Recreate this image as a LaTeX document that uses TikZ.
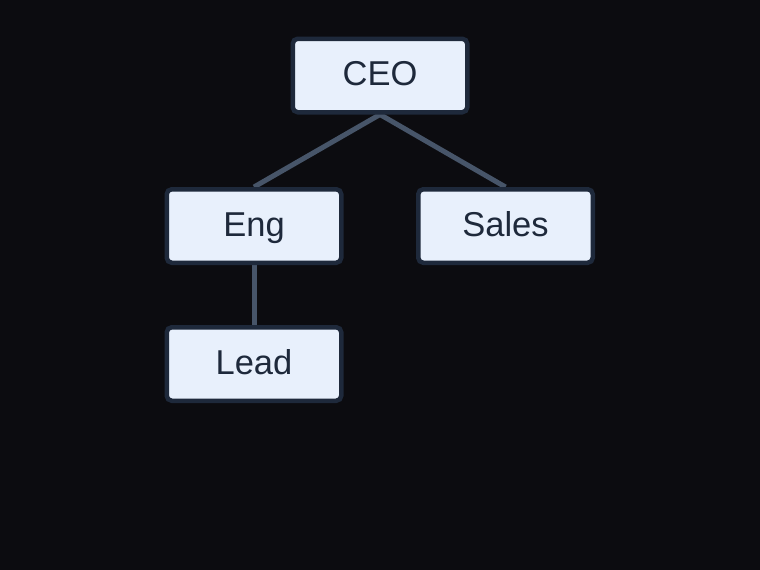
\documentclass[tikz,border=0pt]{standalone}
\usepackage{fontspec}
\setmainfont{Liberation Sans}
\definecolor{bgc}{HTML}{0C0C10}
\definecolor{boxfill}{HTML}{E8F0FC}
\definecolor{boxline}{HTML}{1E293B}
\definecolor{edgec}{HTML}{475569}
\pgfdeclarelayer{bglayer}
\pgfdeclarelayer{edgelayer}
\pgfsetlayers{bglayer,edgelayer,main}
\begin{document}
\begin{tikzpicture}[x=1pt,y=-1pt,
  orgbox/.style={draw=boxline, line width=4.5pt, fill=boxfill, rounded corners=5pt,
    minimum width=174.5pt, minimum height=73.5pt, inner sep=0pt, text=boxline,
    text height=25pt, text depth=5pt,
    font=\fontsize{34.5}{40}\selectfont},
  link/.style={draw=edgec, line width=5pt}]
\begin{pgfonlayer}{bglayer}
\fill[bgc] (0,0) rectangle (760,570);
\end{pgfonlayer}
\useasboundingbox (0,0) rectangle (760,570);
\node[orgbox] (ceo) at (380,75.5) {CEO};
\node[orgbox] (eng) at (254,226) {Eng};
\node[orgbox] (sales) at (505.5,226) {Sales};
\node[orgbox] (lead) at (254,364) {Lead};
\begin{pgfonlayer}{edgelayer}
\draw[link] (ceo.south) -- (eng.north);
\draw[link] (ceo.south) -- (sales.north);
\draw[link] (eng.south) -- (lead.north);
\end{pgfonlayer}
\end{tikzpicture}
\end{document}
